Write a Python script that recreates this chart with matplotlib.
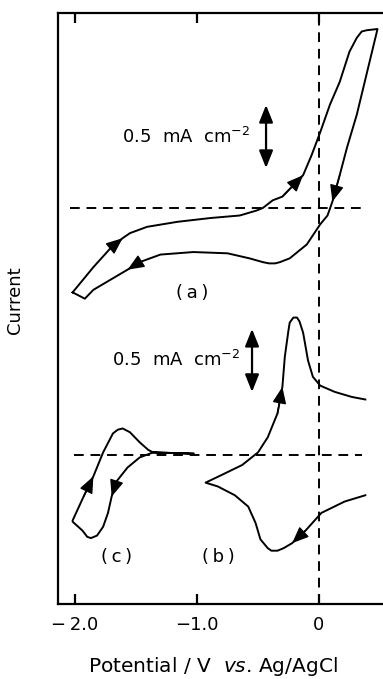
import matplotlib
matplotlib.use("Agg")
import matplotlib.pyplot as plt

# ---- data (potential / V vs Ag/AgCl, current / mA cm^-2) ----
E_a = [-2.02, -1.85, -1.71, -1.61, -1.55, -1.41, -1.16, -0.89, -0.65, -0.51, -0.46, -0.38,
       -0.30, -0.13, -0.06, 0.01, 0.09, 0.17, 0.25, 0.31, 0.35, 0.39, 0.48,
       0.39, 0.31, 0.23, 0.17, 0.11, 0.07, 0.01, -0.10, -0.24, -0.32, -0.36, -0.41, -0.46, -0.57,
       -0.75, -1.03, -1.30, -1.47, -1.57, -1.71, -1.85, -1.92, -2.02]
I_a = [-0.67, -0.47, -0.32, -0.24, -0.20, -0.15, -0.11, -0.08, -0.06, -0.02, 0.00, 0.06,
       0.09, 0.26, 0.42, 0.60, 0.82, 1.00, 1.24, 1.35, 1.40, 1.41, 1.42,
       1.06, 0.74, 0.48, 0.26, 0.05, -0.06, -0.13, -0.29, -0.40, -0.43, -0.44, -0.44, -0.43, -0.40,
       -0.36, -0.35, -0.37, -0.43, -0.49, -0.57, -0.65, -0.72, -0.67]

E_b = [0.38, 0.21, 0.02, -0.11, -0.22, -0.29, -0.34, -0.39, -0.42, -0.48, -0.52, -0.58, -0.69, -0.83, -0.93,
       -0.80, -0.63, -0.50, -0.42, -0.34, -0.30, -0.28, -0.25, -0.24, -0.21, -0.18, -0.16, -0.13, -0.09,
       -0.05, 0.01, 0.13, 0.27, 0.38]
I_b = [-0.32, -0.37, -0.46, -0.60, -0.70, -0.74, -0.76, -0.76, -0.74, -0.67, -0.54, -0.41, -0.32, -0.25, -0.22,
       -0.16, -0.08, 0.02, 0.14, 0.33, 0.54, 0.78, 0.99, 1.05, 1.09, 1.09, 1.06, 0.97, 0.75,
       0.62, 0.55, 0.50, 0.46, 0.44]

E_c = [-1.03, -1.36, -1.47, -1.57, -1.66, -1.70, -1.73, -1.77, -1.82, -1.87, -1.90, -1.94, -2.02,
       -2.02, -1.93, -1.85, -1.77, -1.69, -1.65, -1.61, -1.55, -1.47, -1.40, -1.36, -1.03]
I_c = [0.01, 0.02, -0.02, -0.10, -0.21, -0.33, -0.46, -0.57, -0.64, -0.66, -0.65, -0.60, -0.53,
       -0.52, -0.33, -0.17, 0.02, 0.17, 0.20, 0.21, 0.18, 0.10, 0.04, 0.02, 0.01]

x_ticks = [-2.0, -1.0, 0.0]
x_ticklabels = ["\u2212\u20092.0", "\u22121.0", "0"]
curve_labels = ["(\u2009a\u2009)", "(\u2009b\u2009)", "(\u2009c\u2009)"]
scale_text = "0.5  mA  cm$^{-2}$"
scale_bar = 0.5

# layout constants (vertical offsets of the two panels, in mA cm^-2)
off_a = 3.143
off_bc = 1.183

fig = plt.figure(figsize=(3.83, 6.79), dpi=100)
ax = fig.add_axes([58/383, 1-604/679, 1-58/383, (604-13)/679])
ax.set_xlim(-2.14, 0.525)
ax.set_ylim(0, 4.69)

lw = 1.4
ax.plot(E_a, [v + off_a for v in I_a], color="k", lw=lw, solid_joinstyle="round")
ax.plot(E_b, [v + off_bc for v in I_b], color="k", lw=lw, solid_joinstyle="round")
ax.plot(E_c, [v + off_bc for v in I_c], color="k", lw=lw, solid_joinstyle="round")

# dashed reference lines
dash = dict(color="k", lw=1.4, dashes=(5, 3.5))
ax.plot([-2.04, 0.39], [off_a, off_a], **dash)
ax.plot([-2.01, 0.35], [off_bc, off_bc], **dash)
ax.plot([0, 0], [0, 4.65], **dash)

def head(E, I, off, i):
    ax.annotate("", xy=(E[i], I[i] + off), xytext=(E[i-1], I[i-1] + off),
                arrowprops=dict(arrowstyle="-|>,head_length=0.6,head_width=0.25",
                                color="k", lw=1.0, shrinkA=0, shrinkB=0,
                                mutation_scale=17))

head(E_a, I_a, off_a, 3)
head(E_a, I_a, off_a, 13)
head(E_a, I_a, off_a, 27)
head(E_a, I_a, off_a, 41)
head(E_b, I_b, off_bc, 20)
head(E_b, I_b, off_bc, 4)
head(E_c, I_c, off_bc, 15)
head(E_c, I_c, off_bc, 5)

# scale bars
def scalebar(x, y0):
    ax.annotate("", xy=(x, y0 + scale_bar), xytext=(x, y0),
                arrowprops=dict(arrowstyle="<|-|>,head_length=0.75,head_width=0.3",
                                color="k", lw=1.6, shrinkA=0, shrinkB=0,
                                mutation_scale=14))

scalebar(-0.434, 3.46)
scalebar(-0.549, 1.683)
ax.text(-0.566, 3.71, scale_text, ha="right", va="center", fontsize=13)
ax.text(-0.648, 1.94, scale_text, ha="right", va="center", fontsize=13)

ax.text(-1.04, 2.468, curve_labels[0], ha="center", va="center", fontsize=13)
ax.text(-0.828, 0.373, curve_labels[1], ha="center", va="center", fontsize=13)
ax.text(-1.656, 0.373, curve_labels[2], ha="center", va="center", fontsize=13)

# axes styling
ax.spines["right"].set_visible(False)
for s in ["left", "bottom", "top"]:
    ax.spines[s].set_linewidth(1.6)
ax.set_xticks(x_ticks)
ax.set_xticklabels(x_ticklabels, fontsize=13)
ax.tick_params(axis="x", direction="in", length=7, width=1.6, top=True, bottom=True, pad=9)
ax.set_yticks([])

fig.text(15/383, 1-300/679, "Current", rotation=90, ha="center", va="center", fontsize=13)
fig.text(213/383, 1-667/679, "Potential / V  $\\it{vs}$. Ag/AgCl", ha="center", va="center", fontsize=14.5)

fig.savefig("out.png", dpi=100)
